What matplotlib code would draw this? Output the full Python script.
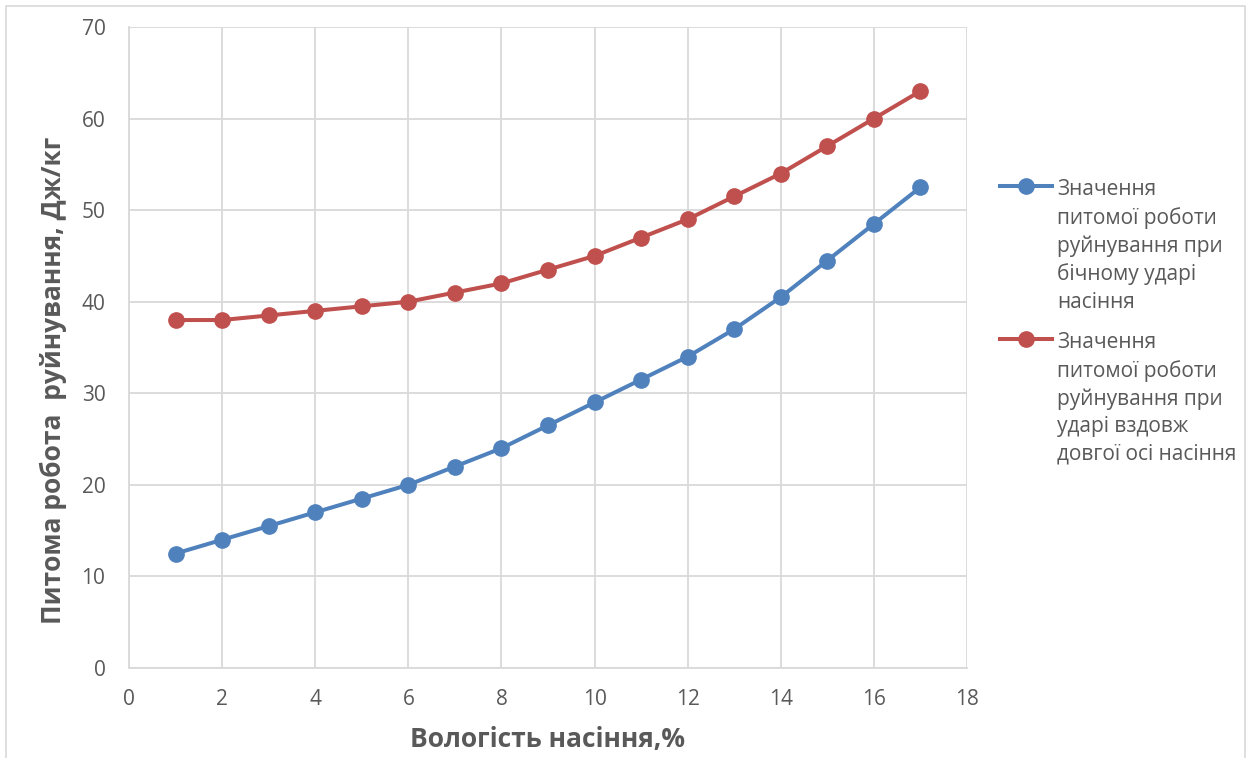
import matplotlib.pyplot as plt
from matplotlib.lines import Line2D
from matplotlib.patches import Rectangle

# Вологість насіння, %
moisture = [1, 2, 3, 4, 5, 6, 7, 8, 9, 10, 11, 12, 13, 14, 15, 16, 17]
# Бічний удар
side_impact = [12.5, 14, 15.5, 17, 18.5, 20, 22, 24, 26.5, 29, 31.5, 34, 37, 40.5, 44.5, 48.5, 52.5]
# Удар вздовж довгої осі
axial_impact = [38, 38, 38.5, 39, 39.5, 40, 41, 42, 43.5, 45, 47, 49, 51.5, 54, 57, 60, 63]

label_side = 'Значення\nпитомої роботи\nруйнування при\nбічному ударі\nнасіння'
label_axial = 'Значення\nпитомої роботи\nруйнування при\nударі вздовж\nдовгої осі насіння'

plt.rcParams['font.family'] = ['Open Sans', 'DejaVu Sans']
text_color = '#595959'
blue = '#4F81BD'
red = '#C0504D'
W, H = 1251, 758

fig = plt.figure(figsize=(W / 100, H / 100), dpi=100)
ax = fig.add_axes([129 / W, 1 - 668 / H, (967 - 129) / W, (668 - 27) / H])

ax.plot(moisture, side_impact, color=blue, lw=2.9, marker='o', ms=11)
ax.plot(moisture, axial_impact, color=red, lw=2.9, marker='o', ms=11)

ax.set_xlim(0, 18)
ax.set_ylim(0, 70)
ax.set_xticks(range(0, 19, 2))
ax.set_yticks(range(0, 71, 10))
ax.grid(True, color='#D9D9D9', lw=1.3)
ax.set_axisbelow(True)
for side in ['top', 'right']:
    ax.spines[side].set_visible(False)
for side in ['left', 'bottom']:
    ax.spines[side].set_color('#D9D9D9')
    ax.spines[side].set_linewidth(1.3)
ax.tick_params(axis='y', length=0, labelsize=15, colors=text_color, pad=17)
ax.tick_params(axis='x', length=0, labelsize=15, colors=text_color, pad=15)

ax.set_xlabel('Вологість насіння,%', fontsize=19, fontweight='bold', color=text_color, labelpad=12)
ax.set_ylabel('Питома робота  руйнування, Дж/кг', fontsize=19, fontweight='bold', color=text_color)
ax.yaxis.set_label_coords(-0.074, 0.449)

# легенда справа: лінія з маркером біля першого рядка підпису
for label, color, y_top in [(label_side, blue, 179), (label_axial, red, 332)]:
    y_mark = 1 - (y_top + 7) / H
    fig.add_artist(Line2D([1000 / W, 1052 / W], [y_mark, y_mark], transform=fig.transFigure,
                          color=color, lw=2.9))
    fig.add_artist(Line2D([1026 / W], [y_mark], transform=fig.transFigure,
                          color=color, marker='o', ms=11, lw=0))
    fig.text(1057 / W, 1 - y_top / H, label, fontsize=15, color=text_color,
             va='top', ha='left', linespacing=1.4)

# рамка навколо діаграми
fig.add_artist(Rectangle((6 / W, -0.01), 1 - 12 / W, 1 - 6 / H + 0.01,
                         transform=fig.transFigure, fill=False, ec='#D9D9D9', lw=1.2))

fig.savefig('out.png', dpi=100, facecolor='white')
